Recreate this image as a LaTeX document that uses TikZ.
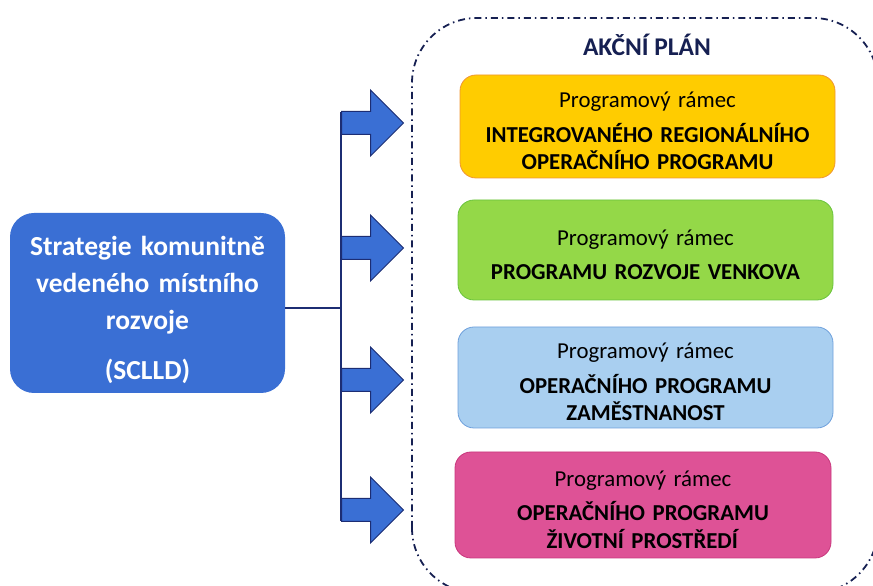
\documentclass[tikz,border=0pt]{standalone}
\usepackage{fontspec}
\setmainfont{Carlito}
\usepackage{xcolor}
\usetikzlibrary{shapes.arrows}
\definecolor{sclldblue}{RGB}{58,111,212}
\definecolor{arrowline}{RGB}{28,45,115}
\definecolor{framenavy}{RGB}{22,32,82}
\definecolor{iropfill}{RGB}{255,204,0}
\definecolor{iropline}{RGB}{240,150,50}
\definecolor{prvfill}{RGB}{148,216,72}
\definecolor{prvline}{RGB}{105,195,60}
\definecolor{opzfill}{RGB}{169,207,240}
\definecolor{opzline}{RGB}{110,160,220}
\definecolor{opzpfill}{RGB}{222,82,150}
\definecolor{opzpline}{RGB}{200,55,125}
\newcommand{\ramechead}{\rule{0pt}{25pt}Programový rámec}

\begin{document}
\begin{tikzpicture}[x=1pt,y=1pt,
    strat/.style={rectangle,rounded corners=24pt,fill=sclldblue,text=white,
      minimum width=275pt,minimum height=180pt,text width=265pt,align=center,
      font=\fontsize{27.5}{37}\selectfont\bfseries},
    irop/.style={rectangle,rounded corners=16pt,draw=iropline,fill=iropfill,line width=0.8pt,
      minimum width=375pt,minimum height=103pt,text width=365pt,align=center,
      font=\fontsize{22.8}{27.5}\selectfont},
    prv/.style={rectangle,rounded corners=16pt,draw=prvline,fill=prvfill,line width=0.8pt,
      minimum width=375pt,minimum height=100pt,text width=365pt,align=center,
      font=\fontsize{22.8}{27.5}\selectfont},
    opz/.style={rectangle,rounded corners=16pt,draw=opzline,fill=opzfill,line width=0.8pt,
      minimum width=375pt,minimum height=101pt,text width=365pt,align=center,
      font=\fontsize{22.8}{27.5}\selectfont},
    opzp/.style={rectangle,rounded corners=16pt,draw=opzpline,fill=opzpfill,line width=0.8pt,
      minimum width=376pt,minimum height=106pt,text width=365pt,align=center,
      font=\fontsize{22.8}{27.5}\selectfont},
    blockarrow/.style={single arrow,draw=arrowline,fill=sclldblue,line width=1pt,
      inner xsep=0pt,inner ysep=11pt,single arrow head extend=21.5pt,
      minimum height=62pt,anchor=tail},
    trunkline/.style={draw=arrowline,line width=1.6pt},
    planframe/.style={draw=framenavy,line width=1.8pt,rounded corners=65pt,
      dash pattern=on 7pt off 4pt on 1.5pt off 4pt},
    plantitle/.style={font=\fontsize{25.5}{28}\selectfont\bfseries,text=framenavy}
  ]
    \useasboundingbox (0,0) rectangle (873,586);

    % action plan frame
    \draw[planframe] (412,-7) rectangle (878,568);
    \node[plantitle] (akcni) at (647,541) {AKČNÍ PLÁN};

    % strategy
    \node[strat] (strategie) at (147.5,283) {\rule{0pt}{33pt}Strategie komunitně\\vedeného místního\\rozvoje\\[13pt](SCLLD)};

    % programme frameworks
    \node[irop] (irop) at (647.5,459.5) {\ramechead\\[7pt]\textbf{INTEGROVANÉHO REGIONÁLNÍHO}\\\textbf{OPERAČNÍHO PROGRAMU}};
    \node[prv] (prv) at (645.5,336) {\ramechead\\[7pt]\textbf{PROGRAMU ROZVOJE VENKOVA}};
    \node[opz] (opz) at (645.5,208.5) {\ramechead\\[7pt]\textbf{OPERAČNÍHO PROGRAMU}\\\textbf{ZAMĚSTNANOST}};
    \node[opzp] (opzp) at (643,81) {\ramechead\\[7pt]\textbf{OPERAČNÍHO PROGRAMU}\\\textbf{ŽIVOTNÍ PROSTŘEDÍ}};

    % arrows
    \node[blockarrow] (arr1) at (341,463) {};
    \node[blockarrow] (arr2) at (341,338) {};
    \node[blockarrow] (arr3) at (341,206) {};
    \node[blockarrow] (arr4) at (341,76) {};

    \coordinate (trunktop) at (341,474);
    \coordinate (trunkbot) at (341,65);
    \draw[trunkline] (trunktop) -- (trunkbot);
    \draw[trunkline] ([yshift=-5pt]strategie.east) -- ([yshift=-5pt]strategie.east -| trunktop);
  \end{tikzpicture}
\end{document}
